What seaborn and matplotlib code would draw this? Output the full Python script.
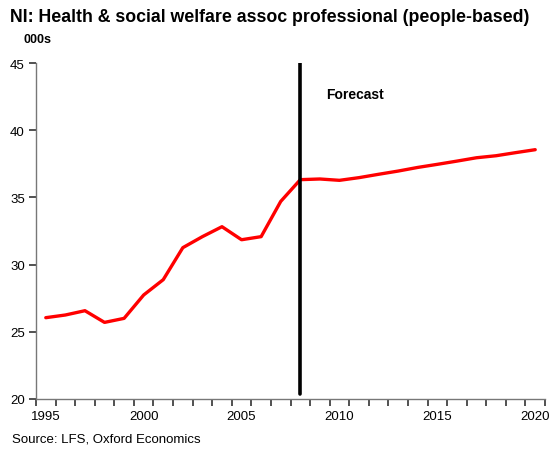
import matplotlib
matplotlib.use("Agg")
import matplotlib.pyplot as plt
import numpy as np
import pandas as pd
import seaborn as sns

years = list(range(1995, 2021))
employment = [26.05, 26.25, 26.57, 25.70, 26.00, 27.74, 28.88, 31.26, 32.08, 32.82,
              31.85, 32.08, 34.70, 36.32, 36.37, 36.27, 36.47, 36.72, 36.96, 37.23,
              37.46, 37.70, 37.95, 38.10, 38.33, 38.55]
forecast_start = 2008
year_labels = [1995, 2000, 2005, 2010, 2015, 2020]
y_ticks = [20, 25, 30, 35, 40, 45]

df = pd.DataFrame({"year": years, "value": employment})

sns.set_theme(style="ticks")
plt.rcParams.update({
    "font.family": ["Liberation Sans", "DejaVu Sans"],
    "text.color": "black",
    "xtick.labelcolor": "black",
    "ytick.labelcolor": "black",
})

fig = plt.figure(figsize=(5.57, 4.52), dpi=100)
ax = fig.add_axes([36 / 557, 1 - 400 / 452, (545 - 36) / 557, (400 - 64) / 452])

sns.lineplot(data=df, x="year", y="value", ax=ax, color="#ff0000", linewidth=2.4)
ax.axvline(forecast_start, color="black", linewidth=2.6, ymin=0.015, ymax=1.0)

ax.set_xlim(1994.5, 2020.5)
ax.set_ylim(20, 45)
ax.set_yticks(y_ticks)
ax.set_yticklabels([str(v) for v in y_ticks], fontsize=9.5)

# tick marks sit between categories, labels sit on the categories
ax.set_xticks(np.arange(1994.5, 2021.0, 1.0))
ax.set_xticklabels([])
ax.set_xticks(year_labels, minor=True)
ax.set_xticklabels([str(y) for y in year_labels], minor=True, fontsize=9.5)
ax.tick_params(axis="x", which="major", bottom=True, direction="out", length=5,
               width=1.2, color="#333333")
ax.tick_params(axis="x", which="minor", bottom=True, length=0, pad=8)
ax.tick_params(axis="y", which="major", left=True, direction="out", length=5,
               width=1.2, color="#333333", pad=3)

ax.set_xlabel("")
ax.set_ylabel("")
for side in ["top", "right"]:
    ax.spines[side].set_visible(False)
for side in ["left", "bottom"]:
    ax.spines[side].set_color("#777777")
    ax.spines[side].set_linewidth(1.0)

ax.text(2009.3, 42.7, "Forecast", fontsize=10, fontweight="bold", va="center", ha="left",
        color="black")

fig.text(10 / 557, 1 - 17 / 452, "NI: Health & social welfare assoc professional (people-based)",
         fontsize=12.8, fontweight="bold", va="center", ha="left", color="black")
fig.text(24 / 557, 1 - 40 / 452, "000s", fontsize=9, fontweight="bold", va="center", ha="left",
         color="black")
fig.text(12 / 557, 1 - 440 / 452, "Source: LFS, Oxford Economics", fontsize=9.5,
         va="center", ha="left", color="black")

fig.savefig("out.png", dpi=100)
